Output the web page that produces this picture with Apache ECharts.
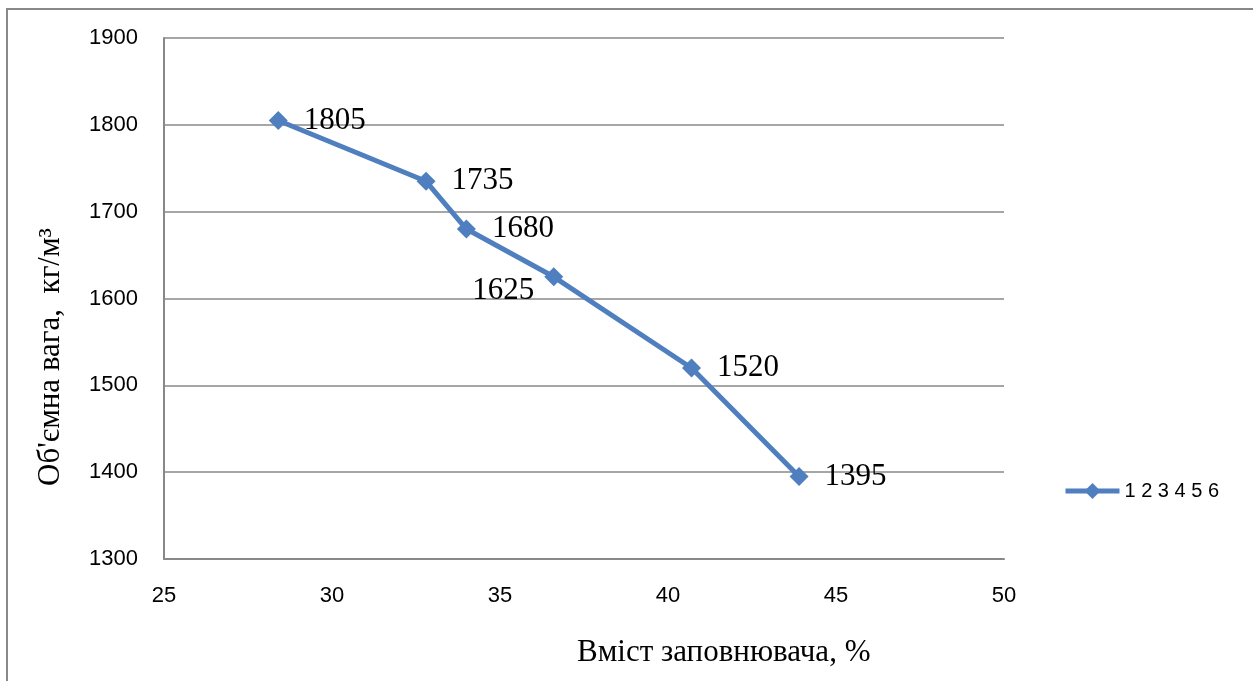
<!DOCTYPE html>
<html>
<head>
<meta charset="utf-8">
<script src="https://cdn.jsdelivr.net/npm/echarts@6/dist/echarts.min.js"></script>
<style>html,body{margin:0;padding:0;background:#fff}#c{width:1253px;height:681px}</style>
</head>
<body>
<div id="c"></div>
<script>
const xValues = [28.4, 32.8, 34.0, 36.6, 40.7, 43.9];
const yValues = [1805, 1735, 1680, 1625, 1520, 1395];
const seriesName = '1 2 3 4 5 6';
const xTitle = 'Вміст заповнювача, %';
const yTitle = 'Об\'ємна вага,  кг/м³';

const chart = echarts.init(document.getElementById('c'));
const data = xValues.map((x, i) => {
  const p = { value: [x, yValues[i]] };
  if (i === 3) p.label = { position: 'left', offset: [6, 14] };
  return p;
});
chart.setOption({
  animation: false,
  backgroundColor: '#fff',
  grid: { left: 164, right: 249, top: 38, bottom: 122 },
  legend: {
    left: 1058, top: 476, itemWidth: 54, itemHeight: 20, itemGap: 4,
    lineStyle: { width: 5 },
    textStyle: { fontFamily: 'Liberation Sans', fontSize: 20, color: '#000' },
    data: [seriesName]
  },
  xAxis: {
    type: 'value', min: 25, max: 50, interval: 5,
    axisLine: { show: true, lineStyle: { color: '#888', width: 2 } },
    axisTick: { show: false },
    splitLine: { show: false },
    axisLabel: { margin: 26, fontFamily: 'Liberation Sans', fontSize: 22, color: '#000' }
  },
  yAxis: {
    type: 'value', min: 1300, max: 1900, interval: 100,
    axisLine: { show: true, lineStyle: { color: '#888', width: 2 } },
    axisTick: { show: false },
    splitLine: { show: true, lineStyle: { color: '#888', width: 1.5 } },
    axisLabel: { margin: 26, fontFamily: 'Liberation Sans', fontSize: 22, color: '#000',
                 formatter: v => String(v) }
  },
  series: [{
    name: seriesName, type: 'line', data: data,
    symbol: 'diamond', symbolSize: 19,
    lineStyle: { color: '#4F7FBE', width: 5 },
    itemStyle: { color: '#4F7FBE' },
    label: {
      show: true, position: 'right', distance: 16,
      formatter: p => p.value[1],
      fontFamily: 'Liberation Serif', fontSize: 31, color: '#000'
    }
  }],
  graphic: [
    { type: 'rect', shape: { x: 7, y: 9, width: 1300, height: 700 },
      style: { fill: 'none', stroke: '#888', lineWidth: 2 }, z: -1 },
    { type: 'text', left: 577, top: 637,
      style: { text: xTitle, font: '31px "Liberation Serif"', fill: '#000' } },
    { type: 'text', x: 51, y: 357, rotation: Math.PI / 2,
      style: { text: yTitle, font: '31px "Liberation Serif"', fill: '#000',
               align: 'center', verticalAlign: 'middle' } }
  ]
});
</script>
</body>
</html>
